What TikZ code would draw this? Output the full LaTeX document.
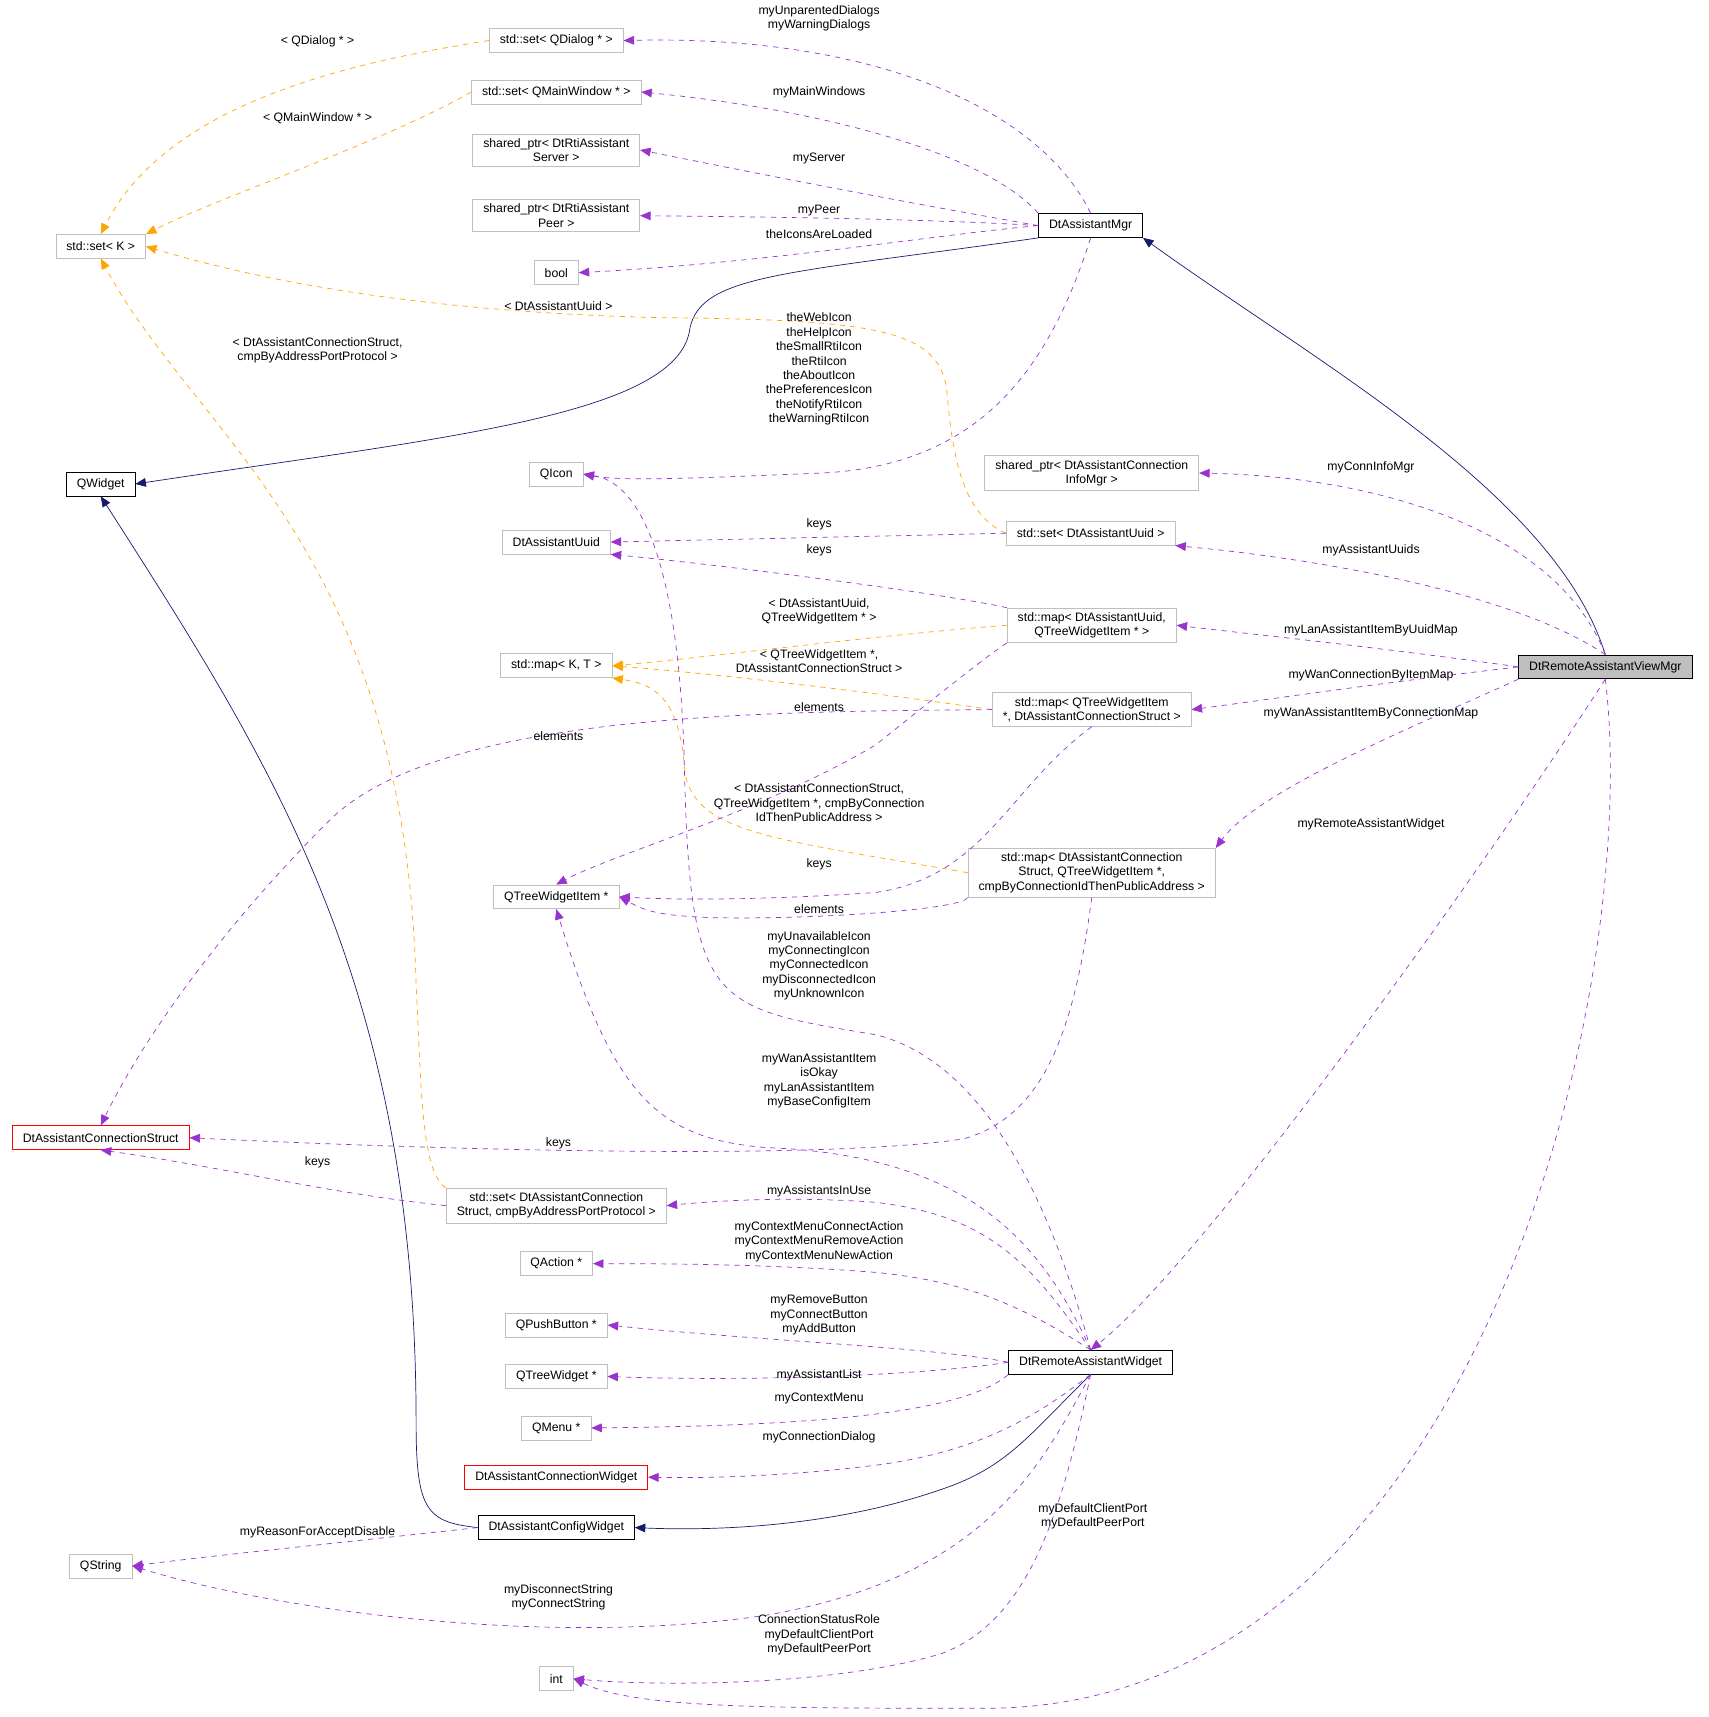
\documentclass[tikz,border=0pt]{standalone}
\usepackage{fontspec}
\setmainfont{Liberation Sans}
\usetikzlibrary{arrows.meta, positioning}
\definecolor{memberPurple}{RGB}{154, 50, 205}
\definecolor{templOrange}{RGB}{255, 165, 0}
\definecolor{baseNavy}{RGB}{25, 25, 112}
\definecolor{boxGray}{RGB}{191, 191, 191}

\begin{document}
\begin{tikzpicture}[
        x=0.022cm, y=-0.022cm,
        font=\fontsize{7}{8.2}\selectfont,
        box/.style={rectangle, draw=boxGray, fill=white, inner xsep=6pt, inner ysep=2.5pt, minimum height=0.48cm, align=center},
        cls/.style={box, draw=black},
        bad/.style={box, draw=red},
        lbl/.style={align=center, inner sep=0pt},
        member/.style={-{Triangle[length=6pt,width=5pt]}, dashed, memberPurple},
        templ/.style={-{Triangle[length=6pt,width=5pt]}, dashed, templOrange},
        base/.style={-{Triangle[length=6pt,width=5pt]}, baseNavy}
    ]
        \useasboundingbox (0,0) rectangle (1560,1568);

        % left column
        \node[box] (setk) at (92,225) {std::set< K >};
        \node[cls] (qwidget) at (92,442) {QWidget};
        \node[bad] (connstruct) at (92,1039) {DtAssistantConnectionStruct};
        \node[box] (qstring) at (92,1430) {QString};

        % middle column
        \node[box] (setdialog) at (508,37) {std::set< QDialog * >};
        \node[box] (setmainwin) at (508,84) {std::set< QMainWindow * >};
        \node[box] (ptrserver) at (508,137) {shared\_ptr< DtRtiAssistant\\Server >};
        \node[box] (ptrpeer) at (508,197) {shared\_ptr< DtRtiAssistant\\Peer >};
        \node[box] (bool) at (508,249) {bool};
        \node[box] (qicon) at (508,433) {QIcon};
        \node[box] (uuid) at (508,495) {DtAssistantUuid};
        \node[box] (mapkt) at (508,608) {std::map< K, T >};
        \node[box] (treeitem) at (508,819) {QTreeWidgetItem *};
        \node[box] (setconn) at (508,1101) {std::set< DtAssistantConnection\\Struct, cmpByAddressPortProtocol >};
        \node[box] (qaction) at (508,1154) {QAction *};
        \node[box] (qpush) at (508,1210) {QPushButton *};
        \node[box] (qtree) at (508,1257) {QTreeWidget *};
        \node[box] (qmenu) at (508,1304) {QMenu *};
        \node[bad] (connwidget) at (508,1349) {DtAssistantConnectionWidget};
        \node[cls] (configwidget) at (508,1395) {DtAssistantConfigWidget};
        \node[box] (int) at (508,1533) {int};

        % right column
        \node[cls] (mgr) at (996,206) {DtAssistantMgr};
        \node[box] (ptrinfo) at (997,432) {shared\_ptr< DtAssistantConnection\\InfoMgr >};
        \node[box] (setuuid) at (996,487) {std::set< DtAssistantUuid >};
        \node[box] (mapuuid) at (997,571) {std::map< DtAssistantUuid,\\QTreeWidgetItem * >};
        \node[box] (mapitem) at (997,648) {std::map< QTreeWidgetItem\\*, DtAssistantConnectionStruct >};
        \node[box] (mapconn) at (997,797) {std::map< DtAssistantConnection\\Struct, QTreeWidgetItem *,\\ cmpByConnectionIdThenPublicAddress >};
        \node[cls] (widget) at (996,1244) {DtRemoteAssistantWidget};
        \node[cls, fill=boxGray] (viewmgr) at (1466,609) {DtRemoteAssistantViewMgr};

        % inheritance
        \draw[base] (viewmgr.north) .. controls (1420,450) and (1200,330) .. (mgr.south east);
        \draw[base] (mgr.south west) .. controls (720,250) and (640,250) .. (630,300) .. controls (620,380) and (400,400) .. (qwidget.east);
        \draw[base] (configwidget.west) .. controls (390,1390) and (380,1380) .. (380,1300) .. controls (380,900) and (250,700) .. (qwidget.south);
        \draw[base] (widget.south) .. controls (940,1310) and (920,1340) .. (860,1360) .. controls (760,1395) and (650,1398) .. (configwidget.east);

        % template instances
        \draw[templ] (setdialog.west) .. controls (300,60) and (150,100) .. (setk.north);
        \draw[templ] (setmainwin.west) .. controls (350,130) and (200,180) .. (setk.north east);
        \draw[templ] (setuuid.west) .. controls (880,470) and (870,420) .. (865,360) .. controls (860,300) and (800,292) .. (600,290) .. controls (400,285) and (250,260) .. (setk.east);
        \draw[templ] (setconn.north west) .. controls (385,1070) and (385,1000) .. (380,900) .. controls (370,500) and (180,400) .. (setk.south);
        \draw[templ] (mapuuid.west) .. controls (800,580) and (650,600) .. (mapkt.east);
        \draw[templ] (mapitem.west) .. controls (780,630) and (650,615) .. (mapkt.east);
        \draw[templ] (mapconn.west) .. controls (700,765) and (630,760) .. (625,700) .. controls (620,640) and (600,625) .. (mapkt.south east);

        % members of DtAssistantMgr
        \draw[member] (mgr.north) .. controls (950,100) and (800,32) .. (setdialog.east);
        \draw[member] (mgr.north west) .. controls (900,140) and (750,100) .. (setmainwin.east);
        \draw[member] (mgr.west) .. controls (800,180) and (700,160) .. (ptrserver.east);
        \draw[member] (mgr.west) .. controls (850,200) and (700,198) .. (ptrpeer.east);
        \draw[member] (mgr.west) .. controls (850,215) and (700,240) .. (bool.east);
        \draw[member] (mgr.south) .. controls (960,330) and (900,425) .. (750,432) .. controls (650,436) and (570,440) .. (qicon.east);

        % members of DtRemoteAssistantViewMgr
        \draw[member] (viewmgr.north) .. controls (1420,480) and (1250,435) .. (ptrinfo.east);
        \draw[member] (viewmgr.north) .. controls (1380,540) and (1200,510) .. (setuuid.south east);
        \draw[member] (viewmgr.west) .. controls (1250,590) and (1150,580) .. (mapuuid.east);
        \draw[member] (viewmgr.west) .. controls (1250,625) and (1150,640) .. (mapitem.east);
        \draw[member] (viewmgr.south west) .. controls (1300,660) and (1150,720) .. (mapconn.north east);
        \draw[member] (viewmgr.south) .. controls (1350,800) and (1100,1150) .. (widget.north);
        \draw[member] (viewmgr.south) .. controls (1500,900) and (1350,1560) .. (900,1560) .. controls (700,1560) and (580,1560) .. (int.east);

        % members of the maps and sets
        \draw[member] (setuuid.west) -- (uuid.east);
        \draw[member] (mapuuid.north west) .. controls (850,540) and (650,515) .. (uuid.south east);
        \draw[member] (mapuuid.south west) .. controls (900,600) and (850,640) .. (800,680) .. controls (700,740) and (560,780) .. (treeitem.north);
        \draw[member] (mapitem.west) .. controls (700,650) and (400,650) .. (300,750) .. controls (200,850) and (130,950) .. (connstruct.north);
        \draw[member] (mapitem.south) .. controls (920,720) and (900,800) .. (800,815) .. controls (700,822) and (620,822) .. (treeitem.east);
        \draw[member] (mapconn.south west) .. controls (880,830) and (750,840) .. (650,838) .. controls (600,836) and (590,832) .. (treeitem.east);
        \draw[member] (mapconn.south) .. controls (980,950) and (950,1020) .. (880,1040) .. controls (750,1060) and (400,1050) .. (connstruct.east);
        \draw[member] (setconn.west) .. controls (300,1090) and (200,1065) .. (connstruct.south);

        % members of DtRemoteAssistantWidget
        \draw[member] (widget.north) .. controls (960,1100) and (900,970) .. (800,945) .. controls (650,920) and (630,920) .. (625,700) .. controls (620,500) and (580,440) .. (qicon.east);
        \draw[member] (widget.north) .. controls (950,1130) and (880,1055) .. (700,1048) .. controls (600,1040) and (560,1000) .. (treeitem.south);
        \draw[member] (widget.north) .. controls (940,1150) and (900,1110) .. (800,1098) .. controls (720,1092) and (650,1097) .. (setconn.east);
        \draw[member] (widget.north) .. controls (930,1190) and (880,1170) .. (800,1162) .. controls (700,1154) and (600,1154) .. (qaction.east);
        \draw[member] (widget.west) .. controls (850,1230) and (700,1225) .. (qpush.east);
        \draw[member] (widget.west) .. controls (850,1255) and (700,1262) .. (qtree.east);
        \draw[member] (widget.south west) .. controls (880,1290) and (750,1302) .. (qmenu.east);
        \draw[member] (widget.south) .. controls (950,1290) and (900,1325) .. (800,1338) .. controls (720,1348) and (650,1350) .. (connwidget.east);
        \draw[member] (widget.south) .. controls (950,1340) and (900,1440) .. (700,1475) .. controls (500,1505) and (250,1470) .. (qstring.east);
        \draw[member] (widget.south) .. controls (970,1380) and (940,1480) .. (860,1510) .. controls (760,1540) and (600,1540) .. (int.east);
        \draw[member] (configwidget.west) .. controls (300,1410) and (200,1420) .. (qstring.east);

        % edge labels
        \node[lbl] (l1) at (748,17) {myUnparentedDialogs\\myWarningDialogs};
        \node[lbl] (l2) at (748,84) {myMainWindows};
        \node[lbl] (l3) at (748,145) {myServer};
        \node[lbl] (l4) at (748,192) {myPeer};
        \node[lbl] (l5) at (748,214) {theIconsAreLoaded};
        \node[lbl] (l6) at (748,337) {theWebIcon\\theHelpIcon\\theSmallRtiIcon\\theRtiIcon\\theAboutIcon\\thePreferencesIcon\\theNotifyRtiIcon\\theWarningRtiIcon};
        \node[lbl] (l7) at (290,38) {< QDialog * >};
        \node[lbl] (l8) at (290,108) {< QMainWindow * >};
        \node[lbl] (l9) at (510,280) {< DtAssistantUuid >};
        \node[lbl] (l10) at (290,320) {< DtAssistantConnectionStruct,\\cmpByAddressPortProtocol >};
        \node[lbl] (l11) at (1252,427) {myConnInfoMgr};
        \node[lbl] (l12) at (1252,503) {myAssistantUuids};
        \node[lbl] (l13) at (1252,576) {myLanAssistantItemByUuidMap};
        \node[lbl] (l14) at (1252,617) {myWanConnectionByItemMap};
        \node[lbl] (l15) at (1252,651) {myWanAssistantItemByConnectionMap};
        \node[lbl] (l16) at (1252,753) {myRemoteAssistantWidget};
        \node[lbl] (l17) at (748,479) {keys};
        \node[lbl] (l18) at (748,503) {keys};
        \node[lbl] (l19) at (748,558) {< DtAssistantUuid,\\QTreeWidgetItem * >};
        \node[lbl] (l20) at (748,604) {< QTreeWidgetItem *,\\DtAssistantConnectionStruct >};
        \node[lbl] (l21) at (748,646) {elements};
        \node[lbl] (l22) at (510,672) {elements};
        \node[lbl] (l23) at (748,733) {< DtAssistantConnectionStruct,\\QTreeWidgetItem *, cmpByConnection\\IdThenPublicAddress >};
        \node[lbl] (l24) at (748,789) {keys};
        \node[lbl] (l25) at (748,830) {elements};
        \node[lbl] (l26) at (748,882) {myUnavailableIcon\\myConnectingIcon\\myConnectedIcon\\myDisconnectedIcon\\myUnknownIcon};
        \node[lbl] (l27) at (748,987) {myWanAssistantItem\\isOkay\\myLanAssistantItem\\myBaseConfigItem};
        \node[lbl] (l28) at (510,1044) {keys};
        \node[lbl] (l29) at (290,1061) {keys};
        \node[lbl] (l30) at (748,1088) {myAssistantsInUse};
        \node[lbl] (l31) at (748,1134) {myContextMenuConnectAction\\myContextMenuRemoveAction\\myContextMenuNewAction};
        \node[lbl] (l32) at (748,1201) {myRemoveButton\\myConnectButton\\myAddButton};
        \node[lbl] (l33) at (748,1256) {myAssistantList};
        \node[lbl] (l34) at (748,1277) {myContextMenu};
        \node[lbl] (l35) at (748,1313) {myConnectionDialog};
        \node[lbl] (l36) at (998,1385) {myDefaultClientPort\\myDefaultPeerPort};
        \node[lbl] (l37) at (290,1399) {myReasonForAcceptDisable};
        \node[lbl] (l38) at (510,1459) {myDisconnectString\\myConnectString};
        \node[lbl] (l39) at (748,1493) {ConnectionStatusRole\\myDefaultClientPort\\myDefaultPeerPort};
    \end{tikzpicture}
\end{document}
